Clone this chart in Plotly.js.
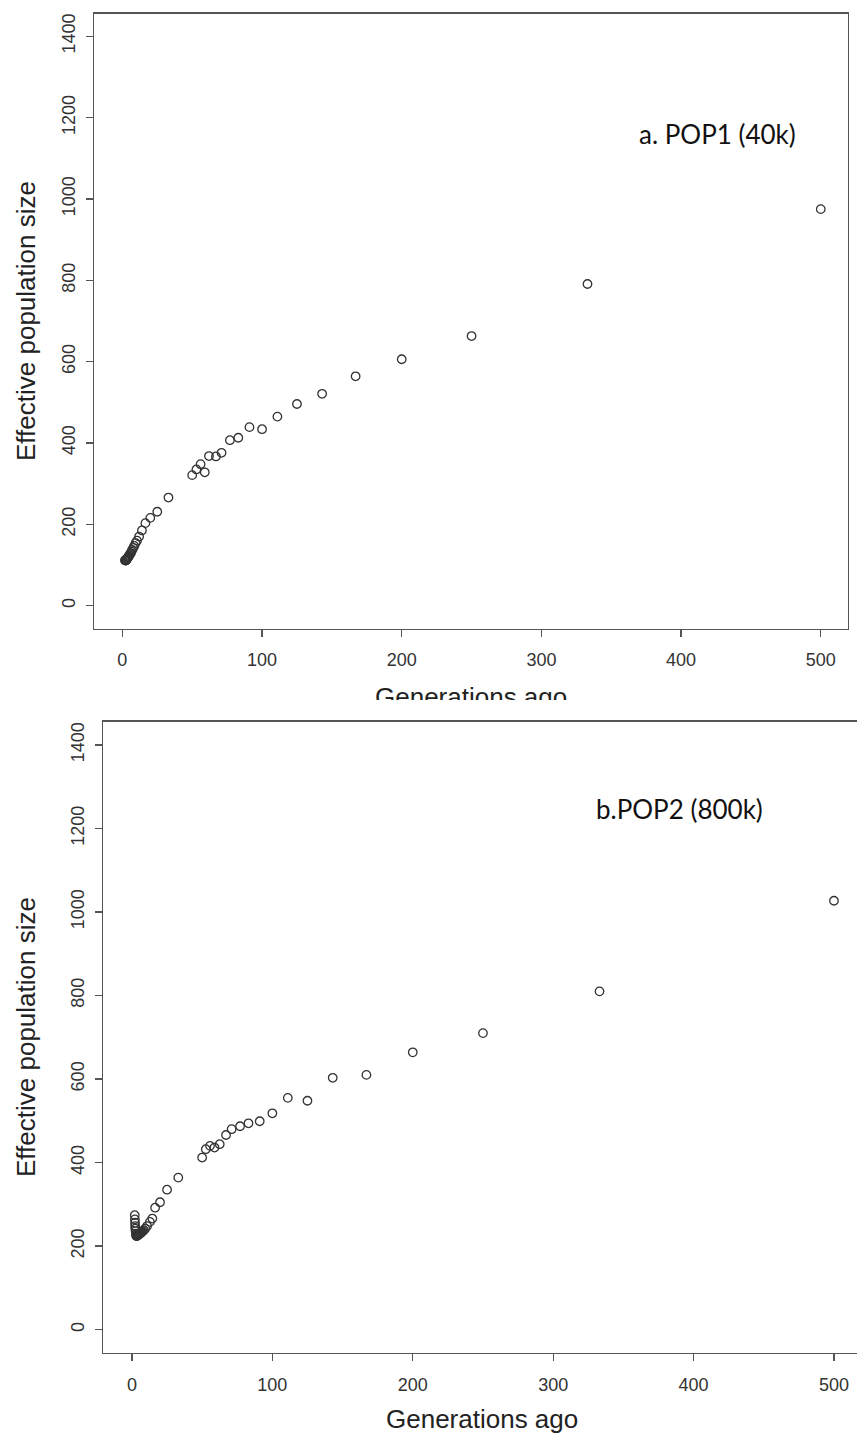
<!DOCTYPE html>
<html><head><meta charset="utf-8">
<script src="https://cdn.plot.ly/plotly-3.0.1.min.js"></script>
<style>html,body{margin:0;padding:0;background:#fff;}#chart{width:857px;height:1436px;}</style>
</head><body><div id="chart"></div>
<script>
// Panel a: POP1 (40k)
const genA = [500, 333, 250, 200, 167, 143, 125, 111, 100, 91, 83, 77, 71, 67, 62, 59, 56, 53, 50, 33, 25, 20, 16.5, 14, 12, 10.5, 9.5, 8.5, 7.8, 7, 6.5, 6, 5.5, 5, 4.6, 4.3, 4, 3.7, 3.4, 3.1, 2.9, 2.7, 2.5, 2.3, 2.1, 1.9];
const neA  = [975, 791, 663, 606, 564, 521, 496, 465, 434, 439, 413, 407, 376, 367, 368, 328, 348, 335, 321, 266, 231, 216, 203, 185, 170, 160, 154, 147, 142, 137, 133, 129, 127, 124, 122, 120, 119, 117, 116, 114, 113, 112, 111, 111, 112, 112];
// Panel b: POP2 (800k)
const genB = [500, 333, 250, 200, 167, 143, 125, 111, 100, 91, 83, 77, 71, 67, 62.5, 58.8, 55.6, 52.6, 50, 33, 25, 20, 16.5, 14.5, 12.8, 10.8, 9.5, 8.5, 7.7, 7.1, 6.6, 6.1, 5.7, 5.3, 4.9, 4.5, 4.1, 3.8, 3.5, 3.2, 3.0, 2.8, 2.6, 2.4, 2.3, 2.2, 2.1, 2.0];
const neB  = [1027, 810, 710, 664, 610, 603, 548, 555, 518, 499, 494, 487, 480, 466, 444, 436, 440, 432, 412, 364, 335, 305, 292, 266, 258, 248, 242, 238, 236, 234, 232, 231, 230, 229, 228, 227, 226, 225, 224, 224, 226, 230, 236, 242, 248, 256, 264, 274];

const xTickVals = [0, 100, 200, 300, 400, 500];
const yTickVals = [0, 200, 400, 600, 800, 1000, 1200, 1400];
const labelA = 'a. POP1 (40k)';
const labelB = 'b.POP2 (800k)';
const xTitleText = 'Generations ago';
const yTitleText = 'Effective population size';

const W = 857, H = 1436;
const px = x => x / W;
const py = y => 1 - y / H;

const rFont = 'Liberation Sans, Arial, sans-serif';
const tickFont = {family: rFont, size: 18, color: '#333'};
const titleFont = {family: rFont, size: 26, color: '#222'};
const noteFont = {family: 'Lato, Open Sans, sans-serif', size: 26, color: '#111'};

const marker = {symbol: 'circle-open', size: 8.5, color: '#333', line: {width: 1.3, color: '#333'}};

const baseX = {
  tickvals: xTickVals, ticks: 'outside', ticklen: 7, tickwidth: 1.2, tickcolor: '#555',
  showline: true, linecolor: '#555', linewidth: 1.3, showgrid: false, zeroline: false,
  tickfont: tickFont, ticklabelstandoff: 8, fixedrange: true
};
const baseY = {
  tickvals: yTickVals, ticks: 'outside', ticklen: 7, tickwidth: 1.2, tickcolor: '#555',
  showline: true, linecolor: '#555', linewidth: 1.3, showgrid: false, zeroline: false,
  tickfont: tickFont, tickangle: -90, ticklabelstandoff: 4, fixedrange: true
};

const traces = [
  {x: genA, y: neA, type: 'scatter', mode: 'markers', marker: marker, xaxis: 'x', yaxis: 'y', hoverinfo: 'x+y'},
  {x: genB, y: neB, type: 'scatter', mode: 'markers', marker: marker, xaxis: 'x2', yaxis: 'y2', hoverinfo: 'x+y'}
];

const layout = {
  width: W, height: H, margin: {l: 0, r: 0, t: 0, b: 0},
  paper_bgcolor: '#fff', plot_bgcolor: '#fff', showlegend: false,
  xaxis: Object.assign({}, baseX, {domain: [px(94), px(848)], range: [-20.3, 519.5], anchor: 'y', mirror: true}),
  yaxis: Object.assign({}, baseY, {domain: [py(628.5), py(13.5)], range: [-56, 1456], anchor: 'x', mirror: true}),
  xaxis2: Object.assign({}, baseX, {domain: [px(103.3), 1], range: [-20.4, 516.4], anchor: 'y2', mirror: true}),
  yaxis2: Object.assign({}, baseY, {domain: [py(1353), py(721.6)], range: [-56, 1456], anchor: 'x2', mirror: false}),
  annotations: [
    {text: yTitleText, xref: 'paper', yref: 'paper', x: px(26), y: py(321), textangle: -90, showarrow: false, font: titleFont, xanchor: 'center', yanchor: 'middle'},
    {text: yTitleText, xref: 'paper', yref: 'paper', x: px(26), y: py(1037), textangle: -90, showarrow: false, font: titleFont, xanchor: 'center', yanchor: 'middle'},
    {text: xTitleText, xref: 'paper', yref: 'paper', x: px(471), y: py(697), showarrow: false, font: titleFont, xanchor: 'center', yanchor: 'middle'},
    {text: xTitleText, xref: 'paper', yref: 'paper', x: px(482), y: py(1419), showarrow: false, font: titleFont, xanchor: 'center', yanchor: 'middle'},
    {text: labelA, xref: 'paper', yref: 'paper', x: px(717), y: py(134), showarrow: false, font: noteFont, xanchor: 'center', yanchor: 'middle'},
    {text: labelB, xref: 'paper', yref: 'paper', x: px(679), y: py(809), showarrow: false, font: noteFont, xanchor: 'center', yanchor: 'middle'},
    {text: ' ', xref: 'paper', yref: 'paper', x: 0, y: py(700), xanchor: 'left', yanchor: 'top', width: W, height: 20, bgcolor: '#fff', borderpad: 0, borderwidth: 0, showarrow: false}
  ]
};

Plotly.newPlot('chart', traces, layout, {displayModeBar: false, staticPlot: true});
</script>
</body></html>
